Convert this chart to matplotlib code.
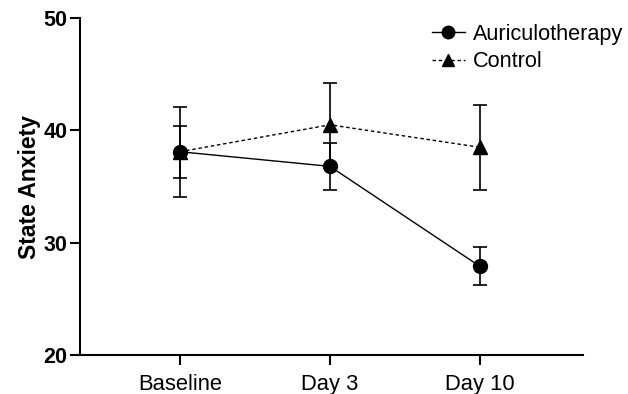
import matplotlib
matplotlib.use("Agg")
import matplotlib.pyplot as plt

plt.rcParams['font.family'] = ['Liberation Sans', 'DejaVu Sans']

categories = ["Baseline", "Day 3", "Day 10"]
auriculo_mean = [38.1, 36.8, 27.9]
auriculo_err = [2.3, 2.1, 1.7]
control_mean = [38.1, 40.5, 38.5]
control_err = [4.0, 3.7, 3.8]

fig = plt.figure(figsize=(6.28, 3.94), dpi=100)
ax = fig.add_axes([0.1274, 0.099, 0.8006, 0.855])

x = list(range(len(categories)))
ax.errorbar(x, control_mean, yerr=control_err, color='black', marker='^', ms=10,
            linestyle=(0, (2.5, 2)), lw=1.0, capsize=5, elinewidth=1.2, capthick=1.2,
            label='Control', zorder=3)
ax.errorbar(x, auriculo_mean, yerr=auriculo_err, color='black', marker='o', ms=10,
            linestyle='-', lw=1.0, capsize=5, elinewidth=1.2, capthick=1.2,
            label='Auriculotherapy', zorder=4)

ax.set_xlim(-0.667, 2.687)
ax.set_ylim(20, 50)
ax.set_yticks([20, 30, 40, 50])
ax.set_xticks(x)
ax.set_xticklabels(categories, fontsize=15.8)
for lab in ax.get_yticklabels():
    lab.set_fontweight('bold')
    lab.set_fontsize(15.5)
ax.set_ylabel('State Anxiety', fontsize=16.5, fontweight='bold', labelpad=2)

for s in ['top', 'right']:
    ax.spines[s].set_visible(False)
for s in ['left', 'bottom']:
    ax.spines[s].set_linewidth(1.5)
ax.tick_params(axis='both', direction='out', length=7, width=1.5)
ax.tick_params(axis='x', pad=7)
ax.tick_params(axis='y', pad=2)

handles, labels = ax.get_legend_handles_labels()
handles = [h[0] if isinstance(h, tuple) else h for h in handles]
leg = fig.legend(handles[::-1], labels[::-1], loc='upper left',
                 bbox_to_anchor=(0.688, 0.94), bbox_transform=fig.transFigure,
                 frameon=False, fontsize=15.6, handlelength=1.5, handletextpad=0.37,
                 labelspacing=0.3, borderpad=0, borderaxespad=0, markerscale=0.9)

fig.savefig('out.png', dpi=100)
